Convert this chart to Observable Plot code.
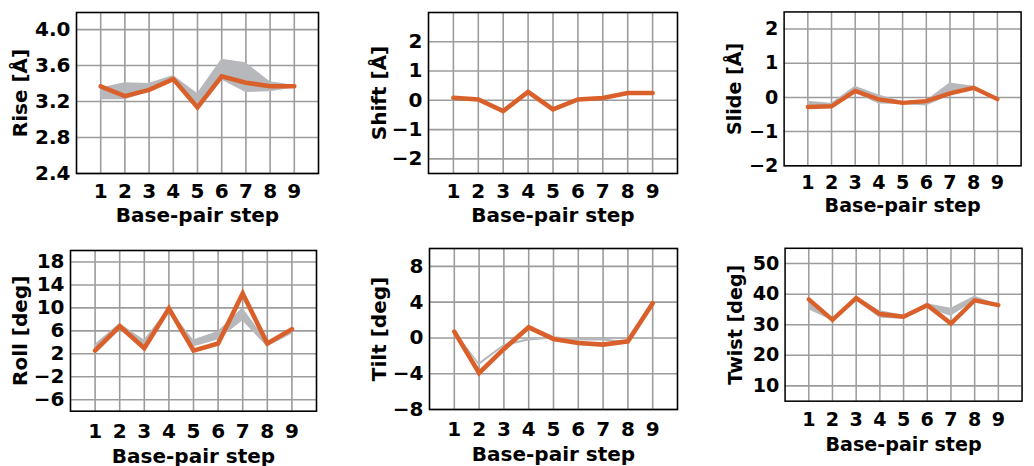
<!DOCTYPE html>
<html>
<head>
<meta charset="utf-8">
<script src="https://cdn.jsdelivr.net/npm/d3@7"></script>
<script src="https://cdn.jsdelivr.net/npm/@observablehq/plot@0.6"></script>
<style>
  html, body { margin: 0; padding: 0; background: #fff; overflow: hidden; }
  #wrap { position: relative; width: 1034px; height: 466px; overflow: hidden; }
  .cell { position: absolute; }
  svg { overflow: visible; }
</style>
</head>
<body>
<div id="wrap"></div>
<script>
const steps = [1, 2, 3, 4, 5, 6, 7, 8, 9];

const riseMean = [3.37, 3.26, 3.33, 3.45, 3.135, 3.48, 3.41, 3.37, 3.37];
const riseLo   = [3.22, 3.22, 3.31, 3.42, 3.14, 3.44, 3.30, 3.31, 3.35];
const riseHi   = [3.35, 3.41, 3.40, 3.49, 3.29, 3.67, 3.63, 3.42, 3.38];

const shiftMean = [0.09, 0.03, -0.37, 0.29, -0.31, 0.03, 0.08, 0.25, 0.25];
const shiftLo   = [0.07, 0.01, -0.39, 0.26, -0.33, 0.01, 0.06, 0.23, 0.23];
const shiftHi   = [0.11, 0.05, -0.35, 0.31, -0.29, 0.05, 0.10, 0.27, 0.27];

const slideMean = [-0.28, -0.26, 0.19, -0.06, -0.16, -0.11, 0.12, 0.28, -0.05];
const slideLo   = [-0.32, -0.30, 0.12, -0.19, -0.21, -0.25, 0.05, 0.23, -0.08];
const slideHi   = [-0.11, -0.17, 0.33, 0.07, -0.12, -0.09, 0.42, 0.33, -0.03];

const rollMean = [2.55, 6.8, 2.97, 9.9, 2.55, 3.8, 12.5, 3.8, 6.3];
const rollLo   = [2.8, 6.4, 3.2, 9.3, 3.2, 4.4, 7.7, 3.2, 5.4];
const rollHi   = [3.6, 7.3, 4.4, 9.9, 4.4, 5.9, 10.0, 4.1, 6.1];

const tiltMean = [0.7, -3.92, -1.23, 1.19, -0.11, -0.56, -0.75, -0.38, 3.88];
const tiltLo   = [0.6, -3.1, -1.0, -0.35, -0.12, -0.35, -0.35, -0.7, 3.3];
const tiltHi   = [0.8, -2.8, -0.75, -0.1, 0.12, -0.1, -0.1, -0.45, 3.5];

const twistMean = [38.3, 31.6, 38.7, 33.5, 32.6, 36.4, 30.4, 38.0, 36.4];
const twistLo   = [34.9, 31.3, 37.9, 32.1, 31.8, 35.4, 32.8, 37.7, 35.8];
const twistHi   = [37.4, 32.1, 39.0, 34.6, 33.1, 36.9, 35.4, 39.3, 36.6];

const riseTicks  = [2.4, 2.8, 3.2, 3.6, 4.0];
const shiftTicks = [-2, -1, 0, 1, 2];
const slideTicks = [-2, -1, 0, 1, 2];
const rollTicks  = [-6, -2, 2, 6, 10, 14, 18];
const tiltTicks  = [-8, -4, 0, 4, 8];
const twistTicks = [10, 20, 30, 40, 50];

const xLabel = "Base-pair step";

const panels = [
  {label: "Rise [Å]",   mean: riseMean,  lo: riseLo,  hi: riseHi,  ticks: riseTicks,  domain: [2.4, 4.19], fmt: d3.format(".1f"),
   left: 0,   top: 0,   frame: [76, 318, 12, 173], yOff: 64, xOff: 34, tp: 10},
  {label: "Shift [Å]",  mean: shiftMean, lo: shiftLo, hi: shiftHi, ticks: shiftTicks, domain: [-2.5, 3.0], fmt: d3.format("d"),
   left: 345, top: 0, frame: [428, 677, 12, 173], yOff: 57, xOff: 34, tp: 10},
  {label: "Slide [Å]",  mean: slideMean, lo: slideLo, hi: slideHi, ticks: slideTicks, domain: [-2, 2.5], fmt: d3.format("d"),
   left: 690, top: 0, frame: [788, 1036, 12, 173], yOff: 59, xOff: 34, tp: 10},
  {label: "Roll [deg]", mean: rollMean,  lo: rollLo,  hi: rollHi,  ticks: rollTicks,  domain: [-8, 20], fmt: d3.format("d"),
   left: 0,   top: 233, frame: [70, 316, 250, 410.7], yOff: 58, xOff: 38, tp: 13},
  {label: "Tilt [deg]", mean: tiltMean,  lo: tiltLo,  hi: tiltHi,  ticks: tiltTicks,  domain: [-8, 10], fmt: d3.format("d"),
   left: 345, top: 233, frame: [429, 677, 248, 409], yOff: 58, xOff: 37, tp: 12},
  {label: "Twist [deg]", mean: twistMean, lo: twistLo, hi: twistHi, ticks: twistTicks, domain: [5, 55], fmt: d3.format("d"),
   left: 690, top: 233, frame: [789, 1037, 248.5, 408.5], yOff: 59, xOff: 38, tp: 12}
];

const wrap = document.getElementById("wrap");
const W = 360, H = 233;
const FONT = "DejaVu Sans";
const FS = 20;

for (const p of panels) {
  const data = steps.map((s, i) => ({s, m: p.mean[i], lo: p.lo[i], hi: p.hi[i]}));
  const [fl, fr, ft, fb] = p.frame;
  const ml = fl - p.left, mr = W - (fr - p.left), mt = ft - p.top, mb = H - (fb - p.top);
  const chart = Plot.plot({
    width: W, height: H,
    marginLeft: ml, marginRight: mr, marginTop: mt, marginBottom: mb,
    style: {fontFamily: FONT, fontWeight: "bold", fontSize: FS + "px", color: "#000", background: "transparent", overflow: "visible"},
    x: {domain: [0, 10]},
    y: {domain: p.domain},
    marks: [
      Plot.gridX(steps, {stroke: "#9c9c9c", strokeOpacity: 1, strokeWidth: 1.6}),
      Plot.gridY(p.ticks, {stroke: "#9c9c9c", strokeOpacity: 1, strokeWidth: 1.6}),
      Plot.areaY(data, {x: "s", y1: "lo", y2: "hi", fill: "#b7b8bb", fillOpacity: 1}),
      Plot.lineY(data, {x: "s", y: "m", stroke: "#d9602b", strokeWidth: 4.6, strokeLinejoin: "miter", strokeMiterlimit: 3}),
      Plot.frame({stroke: "#000", strokeWidth: 1.6}),
      Plot.axisX(steps, {tickSize: 0, tickPadding: p.tp, label: null, fontSize: FS, fontWeight: "bold", fontFamily: FONT, fill: "#000"}),
      Plot.axisY(p.ticks, {tickSize: 0, tickPadding: 6, tickFormat: p.fmt, label: null, fontSize: FS, fontWeight: "bold", fontFamily: FONT, fill: "#000"}),
      Plot.text([xLabel], {frameAnchor: "bottom", lineAnchor: "top", dy: p.xOff, fontSize: FS, fontWeight: "bold", fontFamily: FONT, fill: "#000"}),
      Plot.text([p.label], {frameAnchor: "left", rotate: -90, lineAnchor: "top", textAnchor: "middle", dx: -p.yOff, fontSize: FS, fontWeight: "bold", fontFamily: FONT, fill: "#000"})
    ]
  });
  const div = document.createElement("div");
  div.className = "cell";
  div.style.left = p.left + "px";
  div.style.top = p.top + "px";
  div.appendChild(chart);
  wrap.appendChild(div);
}
</script>
</body>
</html>
